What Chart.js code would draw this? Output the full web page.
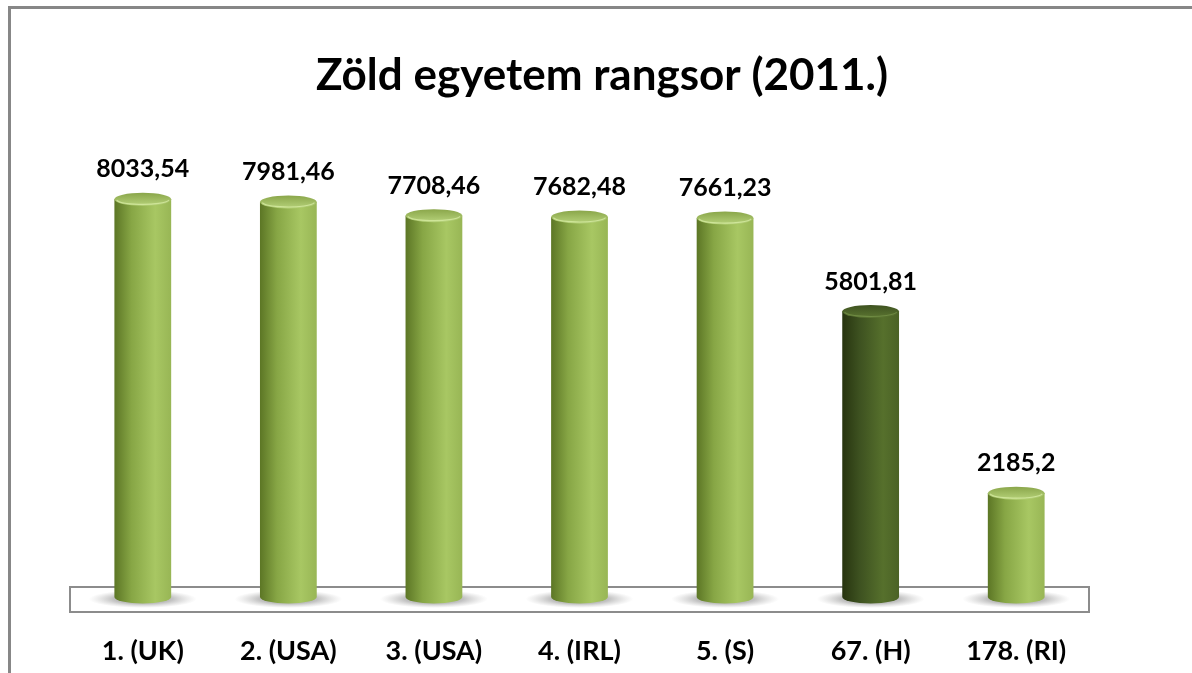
<!DOCTYPE html>
<html lang="hu">
<head>
<meta charset="UTF-8" />
<title>Zöld egyetem rangsor (2011.)</title>
<script src="https://cdn.jsdelivr.net/npm/chart.js"></script>
<style>
    body { margin: 0; background: #fff; }
    #wrap { width: 1192px; height: 673px; position: relative; }
</style>
</head>
<body>
<div id="wrap"><canvas id="rankChart" width="1192" height="673"></canvas></div>
<script>
    // ranking positions with country code
    const categories = ['1. (UK)', '2. (USA)', '3. (USA)', '4. (IRL)', '5. (S)', '67. (H)', '178. (RI)'];
    const scores = [8033.54, 7981.46, 7708.46, 7682.48, 7661.23, 5801.81, 2185.2];
    const highlighted = '67. (H)';

    const FONT = 'Lato, "Open Sans", sans-serif';

    function fmt(v) {
        return String(v).replace('.', ',');
    }

    function drawCylinder(ctx, x, top, base, w, dark) {
        const rx = w / 2, ry = 6.5;
        const left = x - rx, right = x + rx;
        const bottomY = base - 6;

        const g = ctx.createLinearGradient(left, 0, right, 0);
        if (dark) {
            g.addColorStop(0, '#27340f');
            g.addColorStop(0.3, '#3d5120');
            g.addColorStop(0.72, '#56702c');
            g.addColorStop(1, '#4b6226');
        } else {
            g.addColorStop(0, '#5c7625');
            g.addColorStop(0.3, '#87a645');
            g.addColorStop(0.72, '#a8c763');
            g.addColorStop(1, '#98b655');
        }

        ctx.save();
        ctx.beginPath();
        ctx.moveTo(left, top);
        ctx.lineTo(left, bottomY);
        ctx.ellipse(x, bottomY, rx, ry, 0, Math.PI, 0, true);
        ctx.lineTo(right, top);
        ctx.closePath();
        ctx.fillStyle = g;
        ctx.fill();

        // top cap
        const cg = ctx.createLinearGradient(0, top - ry, 0, top + ry);
        if (dark) {
            cg.addColorStop(0, '#3e5220');
            cg.addColorStop(1, '#5b7531');
        } else {
            cg.addColorStop(0, '#8aa64a');
            cg.addColorStop(1, '#b6d27a');
        }
        ctx.beginPath();
        ctx.ellipse(x, top, rx, ry, 0, 0, Math.PI * 2);
        ctx.fillStyle = cg;
        ctx.fill();

        // front rim highlight
        ctx.beginPath();
        ctx.ellipse(x, top, rx - 2, ry - 1.5, 0, 0.15, Math.PI - 0.15);
        ctx.strokeStyle = dark ? 'rgba(140,170,90,0.45)' : 'rgba(220,240,170,0.7)';
        ctx.lineWidth = 1.2;
        ctx.stroke();
        ctx.restore();
    }

    const cylinderPlugin = {
        id: 'cylinders',
        beforeDraw(chart) {
            const ctx = chart.ctx;
            ctx.save();
            // outer frame of the chart object (cropped on right/bottom)
            ctx.strokeStyle = '#878787';
            ctx.lineWidth = 3;
            ctx.beginPath();
            ctx.moveTo(9.5, chart.height);
            ctx.lineTo(9.5, 7.5);
            ctx.lineTo(chart.width, 7.5);
            ctx.stroke();
            ctx.restore();
        },
        beforeDatasetsDraw(chart) {
            const ctx = chart.ctx;
            const area = chart.chartArea;
            const base = chart.scales.y.getPixelForValue(0);
            ctx.save();
            // floor
            ctx.fillStyle = '#ffffff';
            ctx.fillRect(area.left, base - 16, area.right - area.left, 25);
            ctx.strokeStyle = '#8c8c8c';
            ctx.lineWidth = 2;
            ctx.strokeRect(area.left, base - 16, area.right - area.left, 25);

            // soft shadows under bars
            const meta = chart.getDatasetMeta(0);
            meta.data.forEach(bar => {
                const rx = bar.width * 0.95;
                ctx.save();
                ctx.translate(bar.x, base - 4);
                ctx.scale(1, 9 / rx);
                const rg = ctx.createRadialGradient(0, 0, 0, 0, 0, rx);
                rg.addColorStop(0, 'rgba(90,90,90,0.75)');
                rg.addColorStop(0.55, 'rgba(120,120,120,0.45)');
                rg.addColorStop(1, 'rgba(160,160,160,0)');
                ctx.fillStyle = rg;
                ctx.beginPath();
                ctx.arc(0, 0, rx, 0, Math.PI * 2);
                ctx.fill();
                ctx.restore();
            });
            ctx.restore();
        },
        afterDatasetsDraw(chart) {
            const ctx = chart.ctx;
            const meta = chart.getDatasetMeta(0);
            meta.data.forEach((bar, i) => {
                drawCylinder(ctx, bar.x, bar.y, bar.base, bar.width, categories[i] === highlighted);
                ctx.save();
                ctx.fillStyle = '#000';
                ctx.font = 'bold 25px ' + FONT;
                ctx.textAlign = 'center';
                ctx.textBaseline = 'middle';
                ctx.fillText(fmt(scores[i]), bar.x, bar.y - 30);
                ctx.restore();
            });
        }
    };

    // hidden side axes only reserve room so the title sits where it does in the original
    const hiddenAxis = {
        ticks: { display: false },
        grid: { display: false, drawTicks: false },
        border: { display: false }
    };

    new Chart(document.getElementById('rankChart'), {
        type: 'bar',
        data: {
            labels: categories,
            datasets: [{
                data: scores,
                backgroundColor: 'rgba(0,0,0,0)',
                borderWidth: 0,
                barPercentage: 0.39,
                categoryPercentage: 1
            }]
        },
        options: {
            responsive: false,
            animation: false,
            layout: { padding: { left: 12, right: 0, top: 0, bottom: 0 } },
            plugins: {
                legend: { display: false },
                tooltip: { enabled: false },
                title: {
                    display: true,
                    text: 'Zöld egyetem rangsor (2011.)',
                    color: '#000',
                    font: { family: FONT, size: 44, weight: 'bold' },
                    padding: { top: 49, bottom: 49 }
                }
            },
            scales: {
                x: {
                    grid: { display: false, drawTicks: false },
                    border: { display: false },
                    ticks: {
                        color: '#000',
                        padding: 32,
                        font: { family: FONT, size: 27, weight: 'bold' }
                    },
                    afterFit(scale) {
                        scale.height = 70;
                    }
                },
                y: {
                    ...hiddenAxis,
                    position: 'left',
                    min: 0,
                    max: 9000,
                    afterFit(scale) {
                        scale.width = 58;
                    }
                },
                yRight: {
                    ...hiddenAxis,
                    type: 'linear',
                    position: 'right',
                    afterFit(scale) {
                        scale.width = 103;
                    }
                }
            }
        },
        plugins: [cylinderPlugin]
    });
</script>
</body>
</html>
